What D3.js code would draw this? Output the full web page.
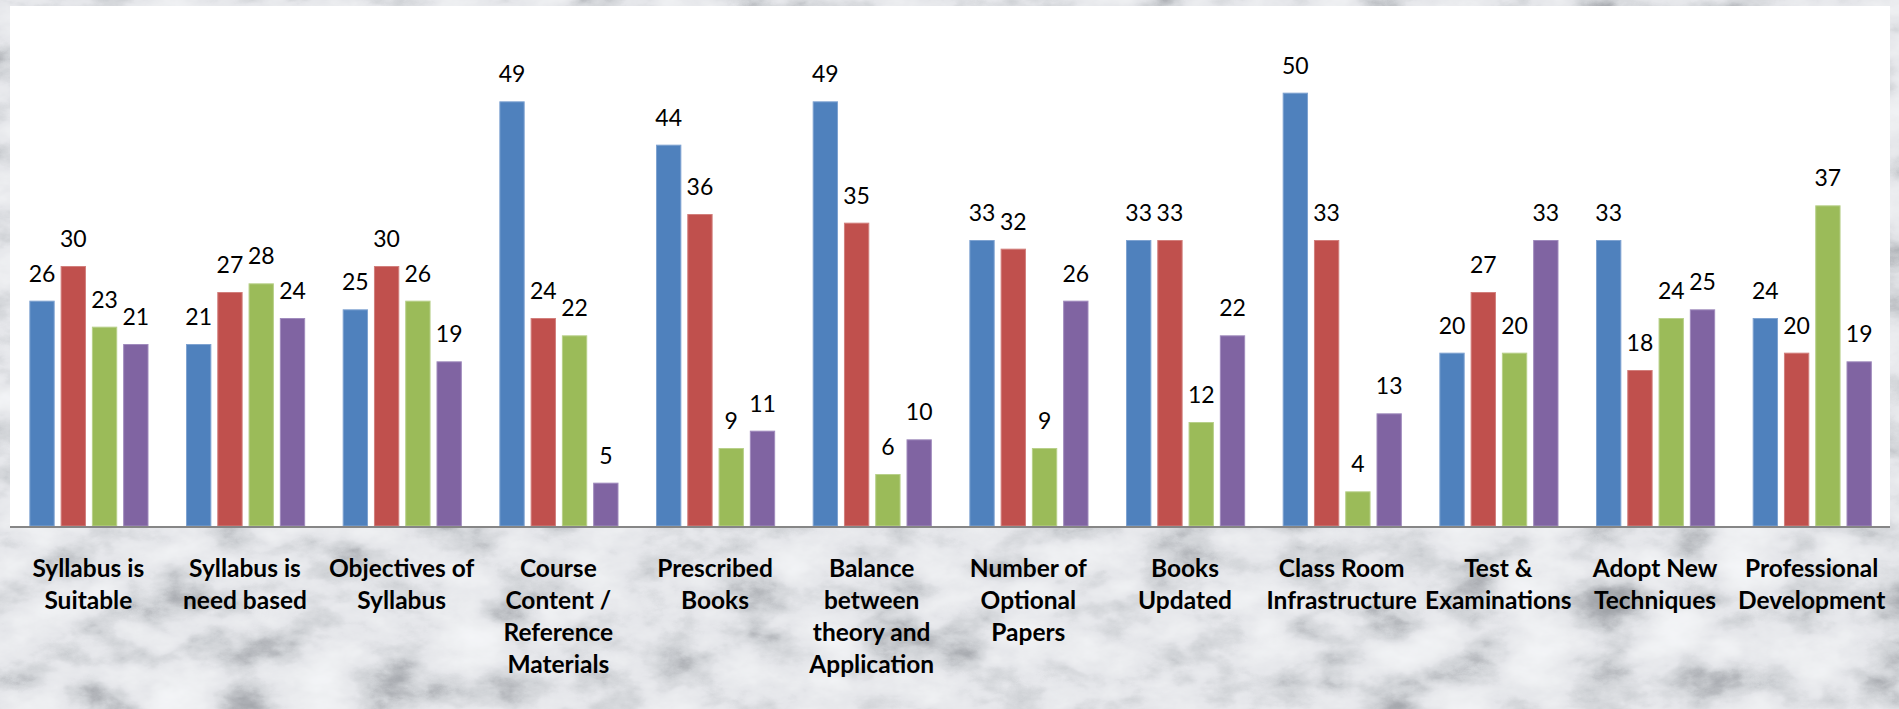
<!DOCTYPE html>
<html>
<head>
<meta charset="utf-8">
<script src="https://cdn.jsdelivr.net/npm/d3@7"></script>
<style>
  html, body { margin: 0; padding: 0; background: #e4e6e8; overflow: hidden; }
  svg { display: block; }
</style>
</head>
<body>
<svg id="chart" width="1899" height="709"></svg>
<script>
// ---- data ----
const categories = [
  "Syllabus is Suitable", "Syllabus is need based", "Objectives of Syllabus",
  "Course Content / Reference Materials", "Prescribed Books",
  "Balance between theory and Application", "Number of Optional Papers",
  "Books Updated", "Class Room Infrastructure", "Test & Examinations",
  "Adopt New Techniques", "Professional Development"
];
const categoryLines = [
  ["Syllabus is", "Suitable"],
  ["Syllabus is", "need based"],
  ["Objectives of", "Syllabus"],
  ["Course", "Content /", "Reference", "Materials"],
  ["Prescribed", "Books"],
  ["Balance", "between", "theory and", "Application"],
  ["Number of", "Optional", "Papers"],
  ["Books", "Updated"],
  ["Class Room", "Infrastructure"],
  ["Test &", "Examinations"],
  ["Adopt New", "Techniques"],
  ["Professional", "Development"]
];
const seriesNames = ["Series 1", "Series 2", "Series 3", "Series 4"];
const series1 = [26, 21, 25, 49, 44, 49, 33, 33, 50, 20, 33, 24];
const series2 = [30, 27, 30, 24, 36, 35, 32, 33, 33, 27, 18, 20];
const series3 = [23, 28, 26, 22, 9, 6, 9, 12, 4, 20, 24, 37];
const series4 = [21, 24, 19, 5, 11, 10, 26, 22, 13, 33, 25, 19];
const seriesColors = ["#4F81BD", "#C0504D", "#9BBB59", "#8064A2"];
const seriesStroke = ["#7FA3D1", "#D27F7C", "#B8D08A", "#A08BBD"];
const yDomain = [0, 60];

const allSeries = [series1, series2, series3, series4];

// ---- layout ----
const svg = d3.select("#chart");
const W = 1899, H = 709;
const plot = { left: 10, right: 1890, top: 6, bottom: 526 };

// marble-like background
const defs = svg.append("defs");
const f = defs.append("filter").attr("id", "marble")
  .attr("x", 0).attr("y", 0).attr("width", "100%").attr("height", "100%")
  .attr("color-interpolation-filters", "sRGB");
f.append("feTurbulence").attr("type", "fractalNoise")
  .attr("baseFrequency", "0.014 0.024").attr("numOctaves", 6).attr("seed", 11).attr("result", "n");
f.append("feColorMatrix").attr("in", "n").attr("type", "matrix")
  .attr("values", "0.33 0.33 0.33 0 0  0.33 0.33 0.33 0 0  0.33 0.33 0.33 0 0  0 0 0 0 1")
  .attr("result", "g");
const ct = f.append("feComponentTransfer").attr("in", "g");
ct.append("feFuncR").attr("type", "table").attr("tableValues", "0.50 0.53 0.58 0.68 0.82 0.90 0.93 0.95 0.96 0.97 0.97");
ct.append("feFuncG").attr("type", "table").attr("tableValues", "0.51 0.54 0.59 0.69 0.83 0.905 0.935 0.955 0.965 0.975 0.975");
ct.append("feFuncB").attr("type", "table").attr("tableValues", "0.53 0.56 0.61 0.71 0.845 0.92 0.945 0.965 0.975 0.985 0.985");
svg.append("rect").attr("x", 0).attr("y", 0).attr("width", W).attr("height", H)
  .attr("fill", "#e4e6e8").attr("filter", "url(#marble)");

// plot area
svg.append("rect")
  .attr("x", plot.left).attr("y", plot.top)
  .attr("width", plot.right - plot.left).attr("height", plot.bottom - plot.top)
  .attr("fill", "#ffffff");

const x0 = d3.scaleBand().domain(categories).range([plot.left, plot.right]).paddingInner(0).paddingOuter(0);
const bw = x0.bandwidth();
const x1 = d3.scaleBand().domain(seriesNames).range([bw * 0.1235, bw * 0.884]).paddingInner(0.19).paddingOuter(0);
const y = d3.scaleLinear().domain(yDomain).range([plot.bottom, plot.top]);

const data = [];
categories.forEach((c, i) => {
  seriesNames.forEach((s, j) => {
    data.push({ cat: c, ser: s, si: j, v: allSeries[j][i] });
  });
});

const g = svg.append("g");
g.selectAll("rect.bar").data(data).enter().append("rect")
  .attr("class", "bar")
  .attr("x", d => x0(d.cat) + x1(d.ser) + 0.5)
  .attr("y", d => y(d.v) + 0.5)
  .attr("width", x1.bandwidth() - 1)
  .attr("height", d => y(0) - y(d.v) - 0.5)
  .attr("fill", d => seriesColors[d.si])
  .attr("stroke", d => seriesStroke[d.si])
  .attr("stroke-width", 1);

g.selectAll("text.val").data(data).enter().append("text")
  .attr("class", "val")
  .attr("x", d => x0(d.cat) + x1(d.ser) + x1.bandwidth() / 2)
  .attr("y", d => y(d.v) - 19)
  .attr("text-anchor", "middle")
  .attr("font-family", "Lato, 'Open Sans', sans-serif")
  .attr("font-size", 23)
  .attr("fill", "#000")
  .text(d => d.v);

// x axis line
svg.append("line")
  .attr("x1", plot.left).attr("x2", plot.right)
  .attr("y1", y(0) + 1).attr("y2", y(0) + 1)
  .attr("stroke", "#868686").attr("stroke-width", 2);

// category labels
const lab = svg.append("g");
categories.forEach((c, i) => {
  const t = lab.append("text")
    .attr("x", x0(c) + bw / 2)
    .attr("y", 576.5)
    .attr("text-anchor", "middle")
    .attr("font-family", "Lato, 'Open Sans', sans-serif")
    .attr("font-weight", "bold")
    .attr("font-size", 24.5)
    .attr("fill", "#000");
  categoryLines[i].forEach((ln, k) => {
    t.append("tspan").attr("x", x0(c) + bw / 2).attr("dy", k === 0 ? 0 : 32.3).text(ln);
  });
});
</script>
</body>
</html>
